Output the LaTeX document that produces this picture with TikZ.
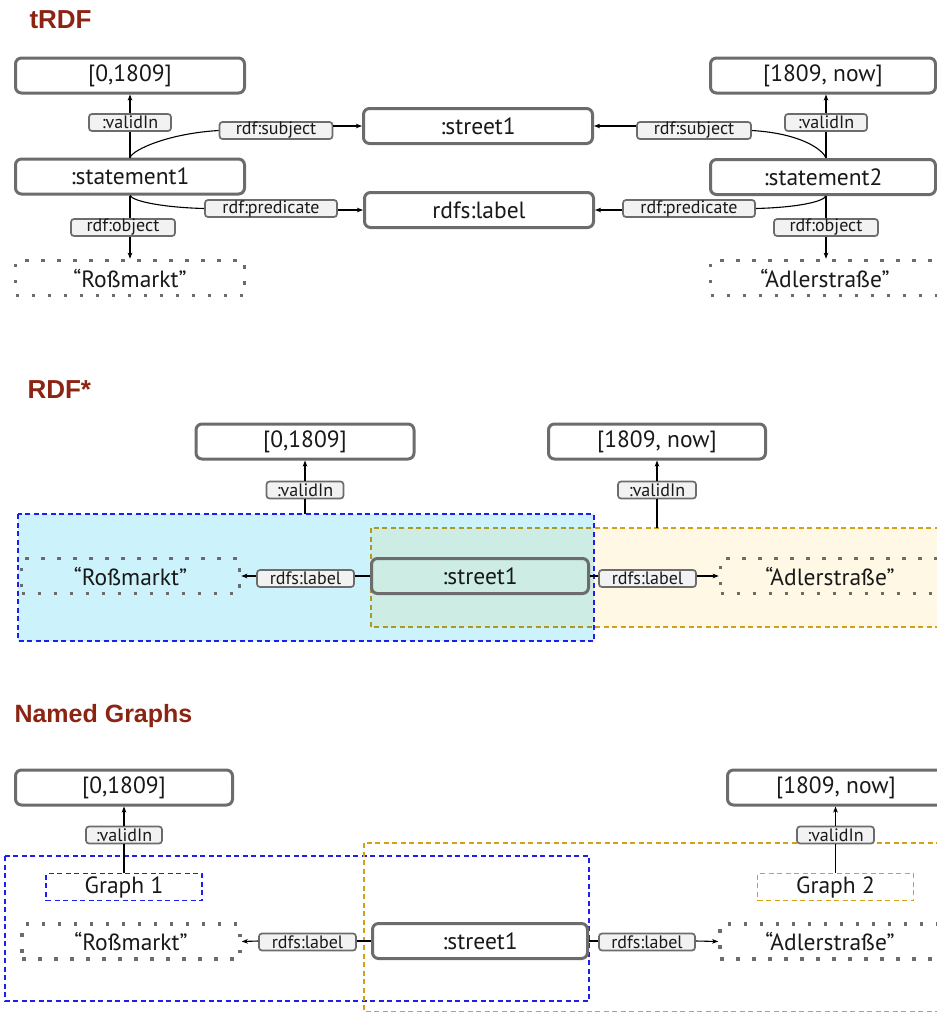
\documentclass[tikz,border=0pt]{standalone}
\usepackage{fontspec}
\setmainfont{PT Sans}
\newfontfamily\titlefont{Liberation Sans}
\usetikzlibrary{arrows.meta}
\definecolor{boxgray}{RGB}{108,108,108}
\definecolor{propfill}{RGB}{242,242,242}
\definecolor{titlered}{RGB}{140,36,20}
\definecolor{cyanfill}{RGB}{204,242,252}
\definecolor{creamfill}{RGB}{255,248,229}
\definecolor{tealfill}{RGB}{204,236,228}
\definecolor{graphblue}{RGB}{30,30,240}
\definecolor{graphgold}{RGB}{212,160,23}
\definecolor{grapholive}{RGB}{170,152,40}

\begin{document}
\begin{tikzpicture}[x=1pt,y=-1pt,
  ttl/.style={anchor=base west,text=titlered,font=\titlefont\bfseries\fontsize{26}{30}\selectfont},
  res/.style={draw=boxgray,line width=3pt,rounded corners=6pt,fill=white,inner sep=0pt,
    minimum width=#1,minimum height=35pt,text=black!90,font=\fontsize{23.5}{26}\selectfont},
  res/.default=229pt,
  lit/.style={draw=boxgray,line width=3.5pt,dash pattern=on 3.5pt off 12.5pt,inner sep=0pt,
    minimum width=#1,minimum height=35pt,text=black!90,font=\fontsize{23.5}{26}\selectfont},
  lit/.default=229pt,
  prop/.style={draw=boxgray,fill=propfill,line width=1.7pt,rounded corners=3pt,inner sep=0pt,
    minimum width=#1,minimum height=17pt,text=black!90,font=\fontsize{18}{19}\selectfont},
  gname/.style={line width=1.4pt,dash pattern=on 5pt off 3.5pt,inner sep=0pt,
    minimum width=156pt,minimum height=27pt,text=black!90,font=\fontsize{23.5}{26}\selectfont},
  gbox/.style={line width=1.4pt,dash pattern=on 5pt off 3.5pt},
  ln/.style={line width=1.1pt},
  arr/.style={-{Stealth[length=6pt,width=4.5pt,inset=1.5pt]},line width=1.1pt}]
\useasboundingbox (0,0) rectangle (937,1012);
\clip (0,0) rectangle (937,1012);

\node[ttl] (ttrdf) at (26,28) {tRDF};
\node[res] (t01) at (130,75.5) {[0,1809]};
\node[res] (tst1) at (130,176.5) {:statement1};
\node[lit] (tross) at (130,278) {“Roßmarkt”};
\node[res] (tstreet) at (478,126) {:street1};
\node[res] (tlabel) at (479,210) {rdfs:label};
\node[res=225pt] (t1809) at (823,75.5) {[1809, now]};
\node[res=225pt] (tst2) at (823,177) {:statement2};
\node[lit] (tadler) at (825,278) {“Adlerstraße”};
\node[prop=82pt] (tv1) at (130,122.5) {:validIn};
\node[prop=104pt] (tob1) at (123,227.5) {rdf:object};
\node[prop=113pt] (tsub1) at (276,130.5) {rdf:subject};
\node[prop=132pt] (tpre1) at (271,208.5) {rdf:predicate};
\node[prop=82pt] (tv2) at (826,122.5) {:validIn};
\node[prop=104pt] (tob2) at (826,227.5) {rdf:object};
\node[prop=114pt] (tsub2) at (694,130.5) {rdf:subject};
\node[prop=132pt] (tpre2) at (689,208.5) {rdf:predicate};

\draw[ln] (tst1.north) -- (tv1.south);
\draw[arr] (tv1.north) -- (t01.south);
\draw[ln] (tst1.south) -- (tst1.south |- tob1.north);
\draw[arr] (tst1.south |- tob1.south) -- (tross.north);
\draw[ln] (tst1.north) .. controls +(3,-8) and +(-50,3) .. (tsub1.west);
\draw[arr] (tsub1.east |- tstreet.west) -- (tstreet.west);
\draw[ln] (tst1.south) .. controls +(3,6) and +(-40,-1) .. (tpre1.west);
\draw[arr] (tpre1.east |- tlabel.west) -- (tlabel.west);
\draw[ln] (tv2.south |- tst2.north) -- (tv2.south);
\draw[arr] (tv2.north) -- (tv2.north |- t1809.south);
\draw[ln] (tob2.north |- tst2.south) -- (tob2.north);
\draw[arr] (tob2.south) -- (tob2.south |- tadler.north);
\draw[ln] (tv2.south |- tst2.north) .. controls +(-3,-8) and +(50,3) .. (tsub2.east);
\draw[arr] (tsub2.west |- tstreet.east) -- (tstreet.east);
\draw[ln] (tob2.north |- tst2.south) .. controls +(-3,6) and +(40,-1) .. (tpre2.east);
\draw[arr] (tpre2.west |- tlabel.east) -- (tlabel.east);

\node[ttl] (trdfs) at (24,398) {RDF*};
\fill[creamfill] (371,528) rectangle (960,627);
\fill[cyanfill] (18,514) rectangle (594,641);
\fill[tealfill] (371,528) rectangle (594,627);
\draw[gbox,graphgold] (371,528) rectangle (960,627);
\begin{scope}
\clip (18,514) rectangle (594,641);
\draw[gbox,grapholive] (371,528) rectangle (960,627);
\end{scope}
\draw[gbox,graphblue] (18,514) rectangle (594,641);
\coordinate (sbluetop) at (305,514);
\coordinate (sgoldtop) at (657,528);
\node[res=218pt] (s01) at (305,441.5) {[0,1809]};
\node[res=217pt] (s1809) at (657,441.5) {[1809, now]};
\node[lit=218pt] (sross) at (130.5,576) {“Roßmarkt”};
\node[res=217pt,fill=none] (sstreet) at (480,576) {:street1};
\node[lit=219pt] (sadler) at (830,576) {“Adlerstraße”};
\node[prop=77pt] (sv1) at (305,490) {:validIn};
\node[prop=78pt] (sv2) at (657,490) {:validIn};
\node[prop=97pt] (slab1) at (305.5,578.5) {rdfs:label};
\node[prop=97pt] (slab2) at (647.5,578.5) {rdfs:label};

\draw[ln] (sbluetop) -- (sv1.south);
\draw[arr] (sv1.north) -- (s01.south);
\draw[ln] (sgoldtop) -- (sv2.south);
\draw[arr] (sv2.north) -- (s1809.south);
\draw[ln] (sstreet.west) -- (slab1.east |- sstreet.west);
\draw[arr] (slab1.west |- sstreet.west) -- (sross.east);
\draw[ln] (sstreet.east) -- (slab2.west |- sstreet.east);
\draw[arr] (slab2.east |- sstreet.east) -- (sadler.west);

\node[ttl,font=\titlefont\bfseries\fontsize{25}{30}\selectfont] (tnamed) at (11,722) {Named Graphs};
\draw[gbox,graphblue] (5,856) rectangle (589,1001);
\draw[gbox,graphgold] (364,843) rectangle (960,1011.5);
\node[res=217pt] (n01) at (124,787.5) {[0,1809]};
\node[res=217pt] (n1809) at (836,787.5) {[1809, now]};
\node[prop=76pt] (nv1) at (124,835) {:validIn};
\node[prop=77pt] (nv2) at (835.5,835) {:validIn};
\node[gname,draw=graphblue] (ng1) at (124,887) {Graph 1};
\node[gname,draw=graphgold] (ng2) at (835.5,887) {Graph 2};
\node[lit=218pt] (nross) at (131,941.5) {“Roßmarkt”};
\node[res=215pt] (nstreet) at (480,941) {:street1};
\node[lit=220pt] (nadler) at (830,941.5) {“Adlerstraße”};
\node[prop=97pt] (nlab1) at (307.5,942) {rdfs:label};
\node[prop=96pt] (nlab2) at (647,942) {rdfs:label};

\draw[ln] (ng1.north) -- (nv1.south);
\draw[arr] (nv1.north) -- (n01.south);
\draw[ln] (ng2.north) -- (nv2.south);
\draw[arr] (nv2.north) -- (nv2.north |- n1809.south);
\draw[ln] (nstreet.west) -- (nlab1.east |- nstreet.west);
\draw[arr] (nlab1.west |- nstreet.west) -- (nross.east);
\draw[ln] (nstreet.east) -- (nlab2.west |- nstreet.east);
\draw[arr] (nlab2.east |- nstreet.east) -- (nadler.west);
\end{tikzpicture}
\end{document}
